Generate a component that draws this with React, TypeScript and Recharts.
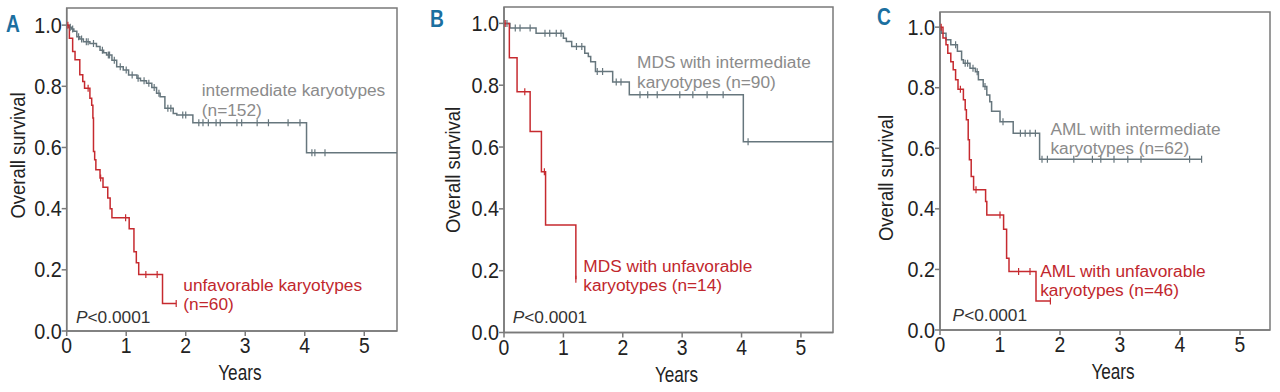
import React from 'react';
import { LineChart, Line, XAxis, YAxis, ReferenceArea, ReferenceDot } from 'recharts';

// ---------- shared ticks ----------
const yTicks = [0, 0.2, 0.4, 0.6, 0.8, 1.0];
const xTicks = [0, 1, 2, 3, 4, 5];
const panelLetters = ['A', 'B', 'C'];

// ---------- Panel A ----------
const aIntSteps: [number, number][] = [
  [0, 1.0], [0.03, 0.993], [0.08, 0.987], [0.12, 0.98], [0.17, 0.962], [0.22, 0.955], [0.28, 0.946],
  [0.39, 0.94], [0.5, 0.93], [0.56, 0.918], [0.62, 0.91], [0.67, 0.902], [0.76, 0.885], [0.84, 0.864],
  [0.95, 0.853], [1.04, 0.837], [1.18, 0.826], [1.24, 0.818], [1.34, 0.81], [1.43, 0.796], [1.51, 0.777],
  [1.57, 0.766], [1.65, 0.728], [1.79, 0.711], [1.85, 0.706], [2.12, 0.681], [4.03, 0.583],
];
const aIntCensor = [0.06, 0.1, 0.2, 0.25, 0.33, 0.36, 0.45, 0.6, 0.7, 0.72, 0.8, 0.9, 1.0, 1.1, 1.2, 1.3,
  1.38, 1.47, 1.55, 1.7, 1.75, 1.95, 2.0, 2.22, 2.29, 2.38, 2.51, 2.58, 2.86, 2.94, 3.2, 3.39, 3.72, 3.92,
  4.12, 4.17, 4.34];
const aIntEnd = 5.55;
const aUnfSteps: [number, number][] = [
  [0, 1.0], [0.045, 0.957], [0.1, 0.914], [0.14, 0.887], [0.22, 0.838], [0.27, 0.816], [0.3, 0.794],
  [0.39, 0.761], [0.42, 0.738], [0.44, 0.696], [0.45, 0.587], [0.47, 0.56], [0.49, 0.527], [0.56, 0.5],
  [0.61, 0.47], [0.69, 0.435], [0.73, 0.4], [0.76, 0.37], [1.05, 0.334], [1.13, 0.259], [1.17, 0.223],
  [1.21, 0.185], [1.61, 0.09],
];
const aUnfCensor = [0.02, 0.36, 0.57, 0.99, 1.33, 1.52, 1.84];
const aIntLabel = ['intermediate karyotypes', '(n=152)'];
const aUnfLabel = ['unfavorable karyotypes', '(n=60)'];

// ---------- Panel B ----------
const bIntSteps: [number, number][] = [
  [0, 1.0], [0.1, 0.985], [0.54, 0.968], [1.0, 0.952], [1.05, 0.941], [1.14, 0.925], [1.36, 0.903],
  [1.42, 0.893], [1.46, 0.876], [1.54, 0.844], [1.83, 0.81], [2.11, 0.769], [4.03, 0.617],
];
const bIntCensor = [0.05, 0.19, 0.27, 0.44, 0.69, 0.77, 0.88, 0.96, 1.22, 1.31, 1.57, 1.66, 1.89, 1.97,
  2.29, 2.42, 2.58, 2.96, 3.18, 3.42, 3.69, 4.11];
const bIntEnd = 5.54;
const bUnfSteps: [number, number][] = [
  [0, 1.0], [0.09, 0.889], [0.22, 0.779], [0.44, 0.65], [0.63, 0.52], [0.7, 0.348], [1.21, 0.172],
];
const bUnfCensor = [0.02, 0.35, 0.68, 1.21];
const bIntLabel = ['MDS with intermediate', 'karyotypes (n=90)'];
const bUnfLabel = ['MDS with unfavorable', 'karyotypes (n=14)'];

// ---------- Panel C ----------
const cIntSteps: [number, number][] = [
  [0, 1.0], [0.02, 0.98], [0.1, 0.958], [0.18, 0.942], [0.29, 0.92], [0.36, 0.892], [0.39, 0.881],
  [0.5, 0.864], [0.59, 0.853], [0.64, 0.826], [0.72, 0.804], [0.78, 0.776], [0.83, 0.754], [0.86, 0.722],
  [1.0, 0.688], [1.22, 0.65], [1.66, 0.564],
];
const cIntCensor = [0.26, 0.42, 0.46, 0.55, 0.62, 0.75, 1.05, 1.34, 1.42, 1.5, 1.59, 1.7, 1.79, 2.23, 2.54,
  2.68, 2.9, 3.13, 3.35, 4.16, 4.36];
const cUnfSteps: [number, number][] = [
  [0, 1.0], [0.05, 0.964], [0.1, 0.942], [0.13, 0.914], [0.18, 0.886], [0.22, 0.859], [0.26, 0.826],
  [0.3, 0.795], [0.39, 0.76], [0.42, 0.727], [0.44, 0.694], [0.47, 0.628], [0.49, 0.562], [0.52, 0.507],
  [0.56, 0.463], [0.76, 0.424], [0.78, 0.38], [1.06, 0.333], [1.11, 0.237], [1.15, 0.193], [1.6, 0.096],
];
const cUnfCensor = [0.02, 0.34, 0.6, 1.0, 1.31, 1.5, 1.84];
const cIntLabel = ['AML with intermediate', 'karyotypes (n=62)'];
const cUnfLabel = ['AML with unfavorable', 'karyotypes (n=46)'];

const pText = '<0.0001';

// ---------- styles ----------
const GRAY_LINE = '#66767d';
const RED_LINE = '#c62a2f';
const GRAY_TEXT = '#8b8b8b';
const RED_TEXT = '#c1272d';
const AXIS = '#7a7a7a';
const BLUE = '#1b6fa0';
const FONT = '"Liberation Sans", Arial, sans-serif';

type Pt = { t: number; s: number; c: number };

function buildCurve(steps: [number, number][], censor: number[], end?: number): Pt[] {
  const pts: Pt[] = steps.map(([t, s]) => ({ t, s, c: 0 }));
  const valueAt = (t: number) => {
    let v = steps[0][1];
    for (const [st, sv] of steps) if (st <= t) v = sv;
    return v;
  };
  censor.forEach((t) => pts.push({ t, s: valueAt(t), c: 1 }));
  if (end !== undefined) pts.push({ t: end, s: valueAt(end), c: 0 });
  pts.sort((a, b) => a.t - b.t || a.c - b.c);
  return pts;
}

const makeDot = (color: string) => (props: any) => {
  const { cx, cy, payload, index } = props;
  if (!payload || !payload.c || cx == null || cy == null) return <g key={`d${index}`} />;
  return <line key={`d${index}`} x1={cx} x2={cx} y1={cy - 3.5} y2={cy + 3.5} stroke={color} strokeWidth={1.2} />;
};

const YTick = (props: any) => {
  const { x, y, payload } = props;
  return (
    <g transform={`translate(${x},${y})`}>
      <text x={0} y={0} dy={7.5} textAnchor="end" fontSize={22} fill="#222" fontFamily={FONT}
        transform="scale(0.9,1)">
        {Number(payload.value).toFixed(1)}
      </text>
    </g>
  );
};

const XTick = (props: any) => {
  const { x, y, payload } = props;
  return (
    <g transform={`translate(${x},${y})`}>
      <text x={0} y={0} dy={17} textAnchor="middle" fontSize={22} fill="#222" fontFamily={FONT}
        transform="scale(0.88,1)">
        {payload.value}
      </text>
    </g>
  );
};

const multiLine = (lines: string[], color: string) => (props: any) => {
  const vb = props.viewBox || {};
  const x = vb.x ?? vb.cx ?? 0;
  const y = vb.y ?? vb.cy ?? 0;
  return (
    <text x={x} y={y} fontSize={17.3} fill={color} fontFamily={FONT}>
      {lines.map((l, i) => (
        <tspan key={i} x={x} dy={i === 0 ? 0 : 19.5}>{l}</tspan>
      ))}
    </text>
  );
};

const pLabel = (props: any) => {
  const vb = props.viewBox || {};
  const x = vb.x ?? 0;
  const y = vb.y ?? 0;
  return (
    <text x={x} y={y} fontSize={17.3} fill="#333" fontFamily={FONT}>
      <tspan fontStyle="italic">P</tspan>
      <tspan>{pText}</tspan>
    </text>
  );
};

type Panel = {
  left: number; width: number; yAxisWidth: number; mt: number; mr: number; mb: number;
  xMax: number; yMax: number;
  inter: Pt[]; unf: Pt[];
  interLabel: string[]; unfLabel: string[];
  interPos: [number, number]; unfPos: [number, number]; pPos: [number, number];
  yLabelX: number; yLabelY: number;
};

const panels: Panel[] = [
  {
    left: 0, width: 410, yAxisWidth: 66.7, mt: 8, mr: 13, mb: 21, xMax: 5.55, yMax: 1.056,
    inter: buildCurve(aIntSteps, aIntCensor, aIntEnd), unf: buildCurve(aUnfSteps, aUnfCensor),
    interLabel: aIntLabel, unfLabel: aUnfLabel,
    interPos: [2.27, 0.768], unfPos: [1.96, 0.131], pPos: [0.156, 0.025],
    yLabelX: 25, yLabelY: 155.5,
  },
  {
    left: 430, width: 415, yAxisWidth: 74, mt: 7, mr: 12, mb: 19.5, xMax: 5.54, yMax: 1.053,
    inter: buildCurve(bIntSteps, bIntCensor, bIntEnd), unf: buildCurve(bUnfSteps, bUnfCensor),
    interLabel: bIntLabel, unfLabel: bUnfLabel,
    interPos: [2.24, 0.855], unfPos: [1.335, 0.197], pPos: [0.146, 0.03],
    yLabelX: 30, yLabelY: 170,
  },
  {
    left: 860, width: 420, yAxisWidth: 80, mt: 12, mr: 10, mb: 22, xMax: 5.5, yMax: 1.05,
    inter: buildCurve(cIntSteps, cIntCensor), unf: buildCurve(cUnfSteps, cUnfCensor),
    interLabel: cIntLabel, unfLabel: cUnfLabel,
    interPos: [1.84, 0.644], unfPos: [1.67, 0.176], pPos: [0.21, 0.031],
    yLabelX: 33, yLabelY: 178,
  },
];

const letterPos: [number, number][] = [[6, 32], [430, 27], [877, 25]];

function KMPanel({ p }: { p: Panel }) {
  return (
    <div style={{ position: 'absolute', left: p.left, top: 0 }}>
      <LineChart width={p.width} height={392} margin={{ top: p.mt, right: p.mr, bottom: p.mb, left: 0 }}>
        <XAxis
          type="number" dataKey="t" domain={[0, p.xMax]} ticks={xTicks} allowDataOverflow
          stroke={AXIS} strokeWidth={1.5} tickSize={5} tickMargin={0} height={40}
          tick={<XTick />}
          label={{
            content: (lp: any) => {
              const vb = lp.viewBox || {};
              return (
                <text x={0} y={0} textAnchor="middle" fontSize={22} fill="#222" fontFamily={FONT}
                  transform={`translate(${vb.x + vb.width / 2 + 8},${vb.y + 49}) scale(0.78,1)`}>
                  Years
                </text>
              );
            },
          }}
        />
        <YAxis
          type="number" domain={[0, p.yMax]} ticks={yTicks} allowDataOverflow
          stroke={AXIS} strokeWidth={1.5} tickSize={5} tickMargin={0} width={p.yAxisWidth}
          tick={<YTick />}
          label={{
            content: () => (
              <text x={0} y={0} textAnchor="middle" fontSize={21} fill="#222" fontFamily={FONT}
                transform={`translate(${p.yLabelX},${p.yLabelY}) rotate(-90) scale(0.88,1)`}>
                Overall survival
              </text>
            ),
          }}
        />
        <ReferenceArea x1={0} x2={p.xMax} y1={0} y2={p.yMax} fill="none" stroke={AXIS} strokeWidth={1.5}
          ifOverflow="visible" />
        <Line data={p.inter} dataKey="s" type="stepAfter" stroke={GRAY_LINE} strokeWidth={1.5}
          dot={makeDot(GRAY_LINE)} activeDot={false} isAnimationActive={false} />
        <Line data={p.unf} dataKey="s" type="stepAfter" stroke={RED_LINE} strokeWidth={1.5}
          dot={makeDot(RED_LINE)} activeDot={false} isAnimationActive={false} />
        <ReferenceDot x={p.interPos[0]} y={p.interPos[1]} r={0} stroke="none" fill="none"
          label={{ content: multiLine(p.interLabel, GRAY_TEXT) }} />
        <ReferenceDot x={p.unfPos[0]} y={p.unfPos[1]} r={0} stroke="none" fill="none"
          label={{ content: multiLine(p.unfLabel, RED_TEXT) }} />
        <ReferenceDot x={p.pPos[0]} y={p.pPos[1]} r={0} stroke="none" fill="none"
          label={{ content: pLabel }} />
      </LineChart>
    </div>
  );
}

export default function App() {
  return (
    <div style={{ position: 'absolute', left: 0, top: 0, width: 1280, height: 392, background: '#fff', overflow: 'hidden' }}>
      {panels.map((p, i) => <KMPanel key={i} p={p} />)}
      <svg width={1280} height={392} style={{ position: 'absolute', left: 0, top: 0, pointerEvents: 'none' }}>
        {panelLetters.map((l, i) => (
          <text key={l} x={0} y={0} fontSize={24} fontWeight="bold" fill={BLUE} fontFamily={FONT}
            transform={`translate(${letterPos[i][0]},${letterPos[i][1]}) scale(0.8,1)`}>
            {l}
          </text>
        ))}
      </svg>
    </div>
  );
}
